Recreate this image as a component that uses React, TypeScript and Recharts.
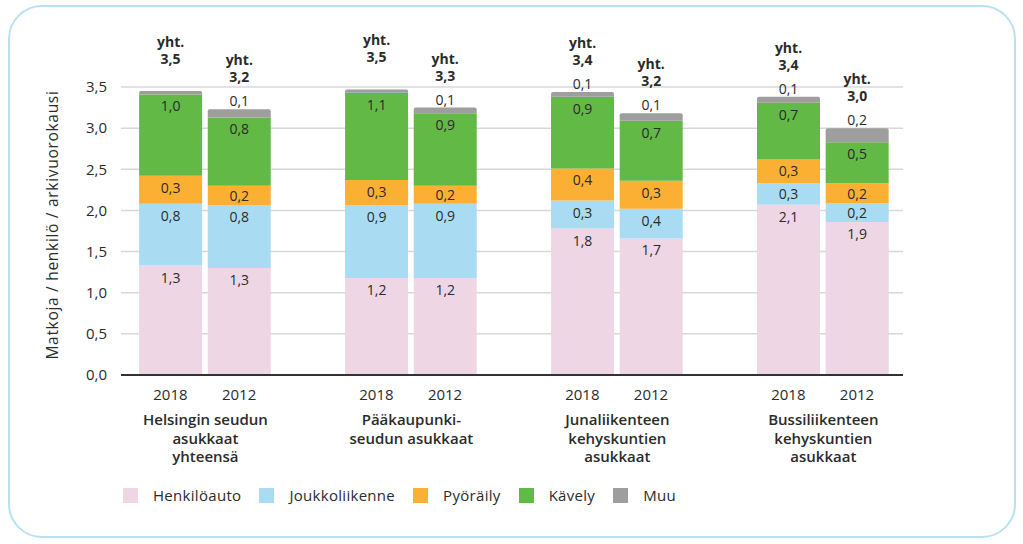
import React from "react";
import { BarChart, Bar, XAxis, YAxis, CartesianGrid, Legend } from "recharts";

const groups = [
  ["Helsingin seudun", "asukkaat", "yhteensä"],
  ["Pääkaupunki-", "seudun asukkaat"],
  ["Junaliikenteen", "kehyskuntien", "asukkaat"],
  ["Bussiliikenteen", "kehyskuntien", "asukkaat"],
];
const years = ["2018", "2012"];
const henkiloauto = [1.33, 1.3, 1.18, 1.18, 1.78, 1.66, 2.07, 1.86];
const joukkoliikenne = [0.75, 0.76, 0.88, 0.9, 0.34, 0.36, 0.26, 0.23];
const pyoraily = [0.34, 0.24, 0.31, 0.22, 0.39, 0.34, 0.29, 0.24];
const kavely = [0.99, 0.83, 1.06, 0.88, 0.87, 0.73, 0.69, 0.5];
const muu = [0.04, 0.1, 0.04, 0.07, 0.06, 0.09, 0.07, 0.17];
const totals = [3.5, 3.2, 3.5, 3.3, 3.4, 3.2, 3.4, 3.0];
const yTicks = [0, 0.5, 1, 1.5, 2, 2.5, 3, 3.5];
const yLabel = "Matkoja / henkilö / arkivuorokausi";

const FONT = "'Open Sans', sans-serif";
const TEXT = "#2b2b2b";

const series = [
  { key: "henkiloauto", name: "Henkilöauto", color: "#efd6e4", values: henkiloauto },
  { key: "joukkoliikenne", name: "Joukkoliikenne", color: "#a9dcf3", values: joukkoliikenne },
  { key: "pyoraily", name: "Pyöräily", color: "#fbb034", values: pyoraily },
  { key: "kavely", name: "Kävely", color: "#62b946", values: kavely },
  { key: "muu", name: "Muu", color: "#9e9e9e", values: muu },
];

// build table: each bar placed on a numeric slot, one empty slot between groups
const rows: any[] = [];
groups.forEach((g, gi) => {
  years.forEach((yr, yi) => {
    const bi = gi * 2 + yi;
    const row: any = { pos: gi * 3 + yi, bar: bi, year: yr, group: yi === 0 ? g : null };
    series.forEach((s) => (row[s.key] = s.values[bi]));
    rows.push(row);
  });
});
const positions = rows.map((r) => r.pos);

const fmt = (v: number) => (Math.round(v * 10) / 10).toFixed(1).replace(".", ",");

const geom = (p: any) => {
  const vb = p.viewBox && p.viewBox.width !== undefined ? p.viewBox : p;
  return { x: Number(vb.x), y: Number(vb.y), width: Number(vb.width), height: Number(vb.height) };
};

const makeSegLabel = (values: number[]) => (p: any) => {
  const idx = p.index;
  if (idx === undefined || values[idx] === undefined) return null;
  const { x, y, width, height } = geom(p);
  const c = Math.min(12, Math.abs(height) / 2 + 0.5);
  return (
    <text x={x + width / 2} y={y + c + 5} textAnchor="middle" fontFamily={FONT} fontSize={14} fill={TEXT}>
      {fmt(values[idx])}
    </text>
  );
};

const topLabel = (p: any) => {
  const idx = p.index;
  if (idx === undefined || muu[idx] === undefined) return null;
  const { x, y, width } = geom(p);
  const cx = x + width / 2;
  return (
    <g>
      {muu[idx] >= 0.05 && (
        <text x={cx} y={y - 3} textAnchor="middle" fontFamily={FONT} fontSize={14} fill={TEXT}>
          {fmt(muu[idx])}
        </text>
      )}
      <text x={cx} y={y - 44} textAnchor="middle" fontFamily={FONT} fontSize={14} fontWeight={700} fill={TEXT}>
        yht.
      </text>
      <text x={cx} y={y - 27} textAnchor="middle" fontFamily={FONT} fontSize={14} fontWeight={700} fill={TEXT}>
        {fmt(totals[idx])}
      </text>
    </g>
  );
};

const XTick = (p: any) => {
  const { x, y, payload } = p;
  const row = rows.find((r) => r.pos === payload.value);
  if (!row) return null;
  return (
    <g>
      <text x={x} y={y + 25} textAnchor="middle" fontFamily={FONT} fontSize={15} fill={TEXT}>
        {row.year}
      </text>
      {row.group &&
        row.group.map((line: string, i: number) => (
          <text
            key={i}
            x={x + 35}
            y={y + 50 + i * 18.5}
            textAnchor="middle"
            fontFamily={FONT}
            fontSize={15}
            fontWeight={600}
            fill={TEXT}
          >
            {line}
          </text>
        ))}
    </g>
  );
};

const LegendContent = () => (
  <div style={{ display: "flex", alignItems: "center", fontFamily: FONT, fontSize: 15, color: TEXT }}>
    {series.map((s) => (
      <div key={s.key} style={{ display: "flex", alignItems: "center", marginRight: 18 }}>
        <div style={{ width: 15, height: 15, background: s.color, marginRight: 15 }} />
        <span style={{ letterSpacing: 0.3 }}>{s.name}</span>
      </div>
    ))}
  </div>
);

export default function App() {
  return (
    <div style={{ position: "absolute", left: 0, top: 0, width: 1023, height: 544, background: "#fff" }}>
      <div
        style={{
          position: "absolute",
          left: 8,
          top: 5,
          width: 1008,
          height: 533,
          boxSizing: "border-box",
          border: "2px solid #b9e1f1",
          borderRadius: 34,
        }}
      />
      <BarChart
        width={1023}
        height={544}
        data={rows}
        margin={{ top: 87, right: 120, bottom: 0, left: 0 }}
        style={{ position: "absolute", left: 0, top: 0 }}
      >
        <CartesianGrid vertical={false} stroke="#d8d8d8" strokeWidth={1.5} />
        <XAxis
          dataKey="pos"
          type="number"
          domain={[-0.72, 10.67]}
          ticks={positions}
          interval={0}
          tick={<XTick />}
          tickLine={false}
          tickSize={0}
          tickMargin={0}
          axisLine={{ stroke: "#333", strokeWidth: 2 }}
          allowDataOverflow
          height={149}
        />
        <YAxis
          domain={[0, 3.5]}
          ticks={yTicks}
          interval={0}
          width={121}
          tickFormatter={fmt}
          tickLine={false}
          tickSize={0}
          tickMargin={14}
          axisLine={false}
          tick={{ fontFamily: FONT, fontSize: 15, fill: TEXT }}
          label={{
            value: yLabel,
            angle: -90,
            position: "insideLeft",
            offset: 0,
            style: { fontFamily: FONT, fontSize: 15.5, fill: TEXT, textAnchor: "middle", letterSpacing: 0.7 },
            dx: 52,
            dy: -6,
          }}
        />
        <Legend
          content={<LegendContent />}
          wrapperStyle={{ position: "absolute", left: 123, top: 485, width: 700, height: 20 }}
        />
        {series.map((s, si) => (
          <Bar
            key={s.key}
            dataKey={s.key}
            name={s.name}
            stackId="a"
            fill={s.color}
            barSize={63}
            isAnimationActive={false}
            radius={si === series.length - 1 ? [2, 2, 0, 0] : 0}
            label={si === series.length - 1 ? topLabel : makeSegLabel(s.values)}
          />
        ))}
      </BarChart>
    </div>
  );
}
